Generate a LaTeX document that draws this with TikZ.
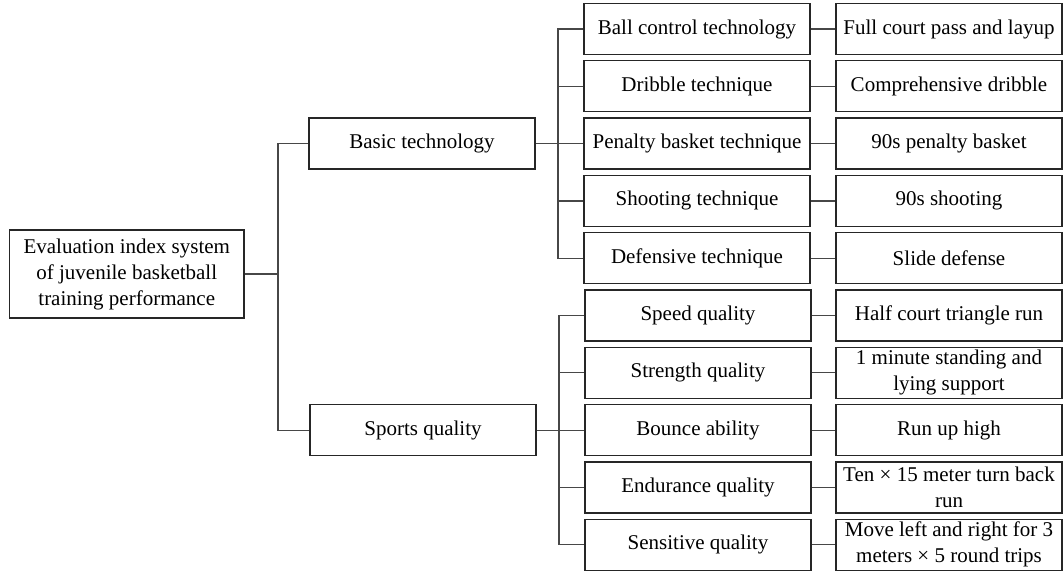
\documentclass[tikz,border=0pt]{standalone}
\usepackage{fontspec}
\setmainfont{Liberation Serif}
\tikzset{every picture/.style={line width=0.75pt}}
\tikzset{
  cell/.style={draw=black!85, line width=1pt, minimum width=169.5pt, minimum height=38.25pt, inner sep=1pt, align=center, font=\fontsize{15.75}{19.5}\selectfont},
  rootcell/.style={cell, minimum width=175.9pt, minimum height=66pt},
  link/.style={draw=black!72, line width=0.9pt}
}

\begin{document}
\begin{tikzpicture}[x=0.75pt,y=0.75pt,yscale=-1,xscale=1]
\useasboundingbox (0,0) rectangle (1063,574);

% Root
\node [rootcell] (root) at (126.75,274) {Evaluation index system\\of juvenile basketball\\training performance};

% Second level
\node [cell] (basic) at (422,143.6) {Basic technology};
\node [cell] (sports) at (423,430.1) {Sports quality};

% Third level: basic technology
\node [cell] (ball) at (697,29) {Ball control technology};
\node [cell] (dribble) at (697,86.3) {Dribble technique};
\node [cell] (penalty) at (697,143.6) {Penalty basket technique};
\node [cell] (shooting) at (697,200.9) {Shooting technique};
\node [cell] (defensive) at (697,258.2) {Defensive technique};

% Third level: sports quality
\node [cell] (speed) at (698,315.5) {Speed quality};
\node [cell] (strength) at (698,372.8) {Strength quality};
\node [cell] (bounce) at (698,430.1) {Bounce ability};
\node [cell] (endurance) at (698,487.4) {Endurance quality};
\node [cell] (sensitive) at (698,544.7) {Sensitive quality};

% Test items
\node [cell] (fullcourt) at (949,29) {Full court pass and layup};
\node [cell] (compdribble) at (949,86.3) {Comprehensive dribble};
\node [cell] (penaltytest) at (949,143.6) {90s penalty basket};
\node [cell] (shoottest) at (949,200.9) {90s shooting};
\node [cell] (slide) at (949,258.2) {Slide defense};
\node [cell] (halfcourt) at (949,315.5) {Half court triangle run};
\node [cell] (support) at (949,372.8) {1 minute standing and\\lying support};
\node [cell] (runup) at (949,430.1) {Run up high};
\node [cell] (turnback) at (949,487.4) {Ten × 15 meter turn back\\run};
\node [cell] (leftright) at (949,544.7) {Move left and right for 3\\meters × 5 round trips};

% Root to second level
\coordinate (trunk) at (278,274);
\draw [link] (root.east) -- (trunk);
\draw [link] (trunk) |- (basic.west);
\draw [link] (trunk) |- (sports.west);

% Basic technology bus
\coordinate (busbasic) at (558,143.6);
\draw [link] (basic.east) -- (busbasic);
\draw [link] (busbasic) |- (ball.west);
\draw [link] (busbasic) |- (dribble.west);
\draw [link] (busbasic) -- (penalty.west);
\draw [link] (busbasic) |- (shooting.west);
\draw [link] (busbasic) |- (defensive.west);

% Sports quality bus
\coordinate (bussports) at (559,430.1);
\draw [link] (sports.east) -- (bussports);
\draw [link] (bussports) |- (speed.west);
\draw [link] (bussports) |- (strength.west);
\draw [link] (bussports) -- (bounce.west);
\draw [link] (bussports) |- (endurance.west);
\draw [link] (bussports) |- (sensitive.west);

% Third level to test items
\draw [link] (ball.east) -- (fullcourt.west);
\draw [link] (dribble.east) -- (compdribble.west);
\draw [link] (penalty.east) -- (penaltytest.west);
\draw [link] (shooting.east) -- (shoottest.west);
\draw [link] (defensive.east) -- (slide.west);
\draw [link] (speed.east) -- (halfcourt.west);
\draw [link] (strength.east) -- (support.west);
\draw [link] (bounce.east) -- (runup.west);
\draw [link] (endurance.east) -- (turnback.west);
\draw [link] (sensitive.east) -- (leftright.west);

\end{tikzpicture}
\end{document}
